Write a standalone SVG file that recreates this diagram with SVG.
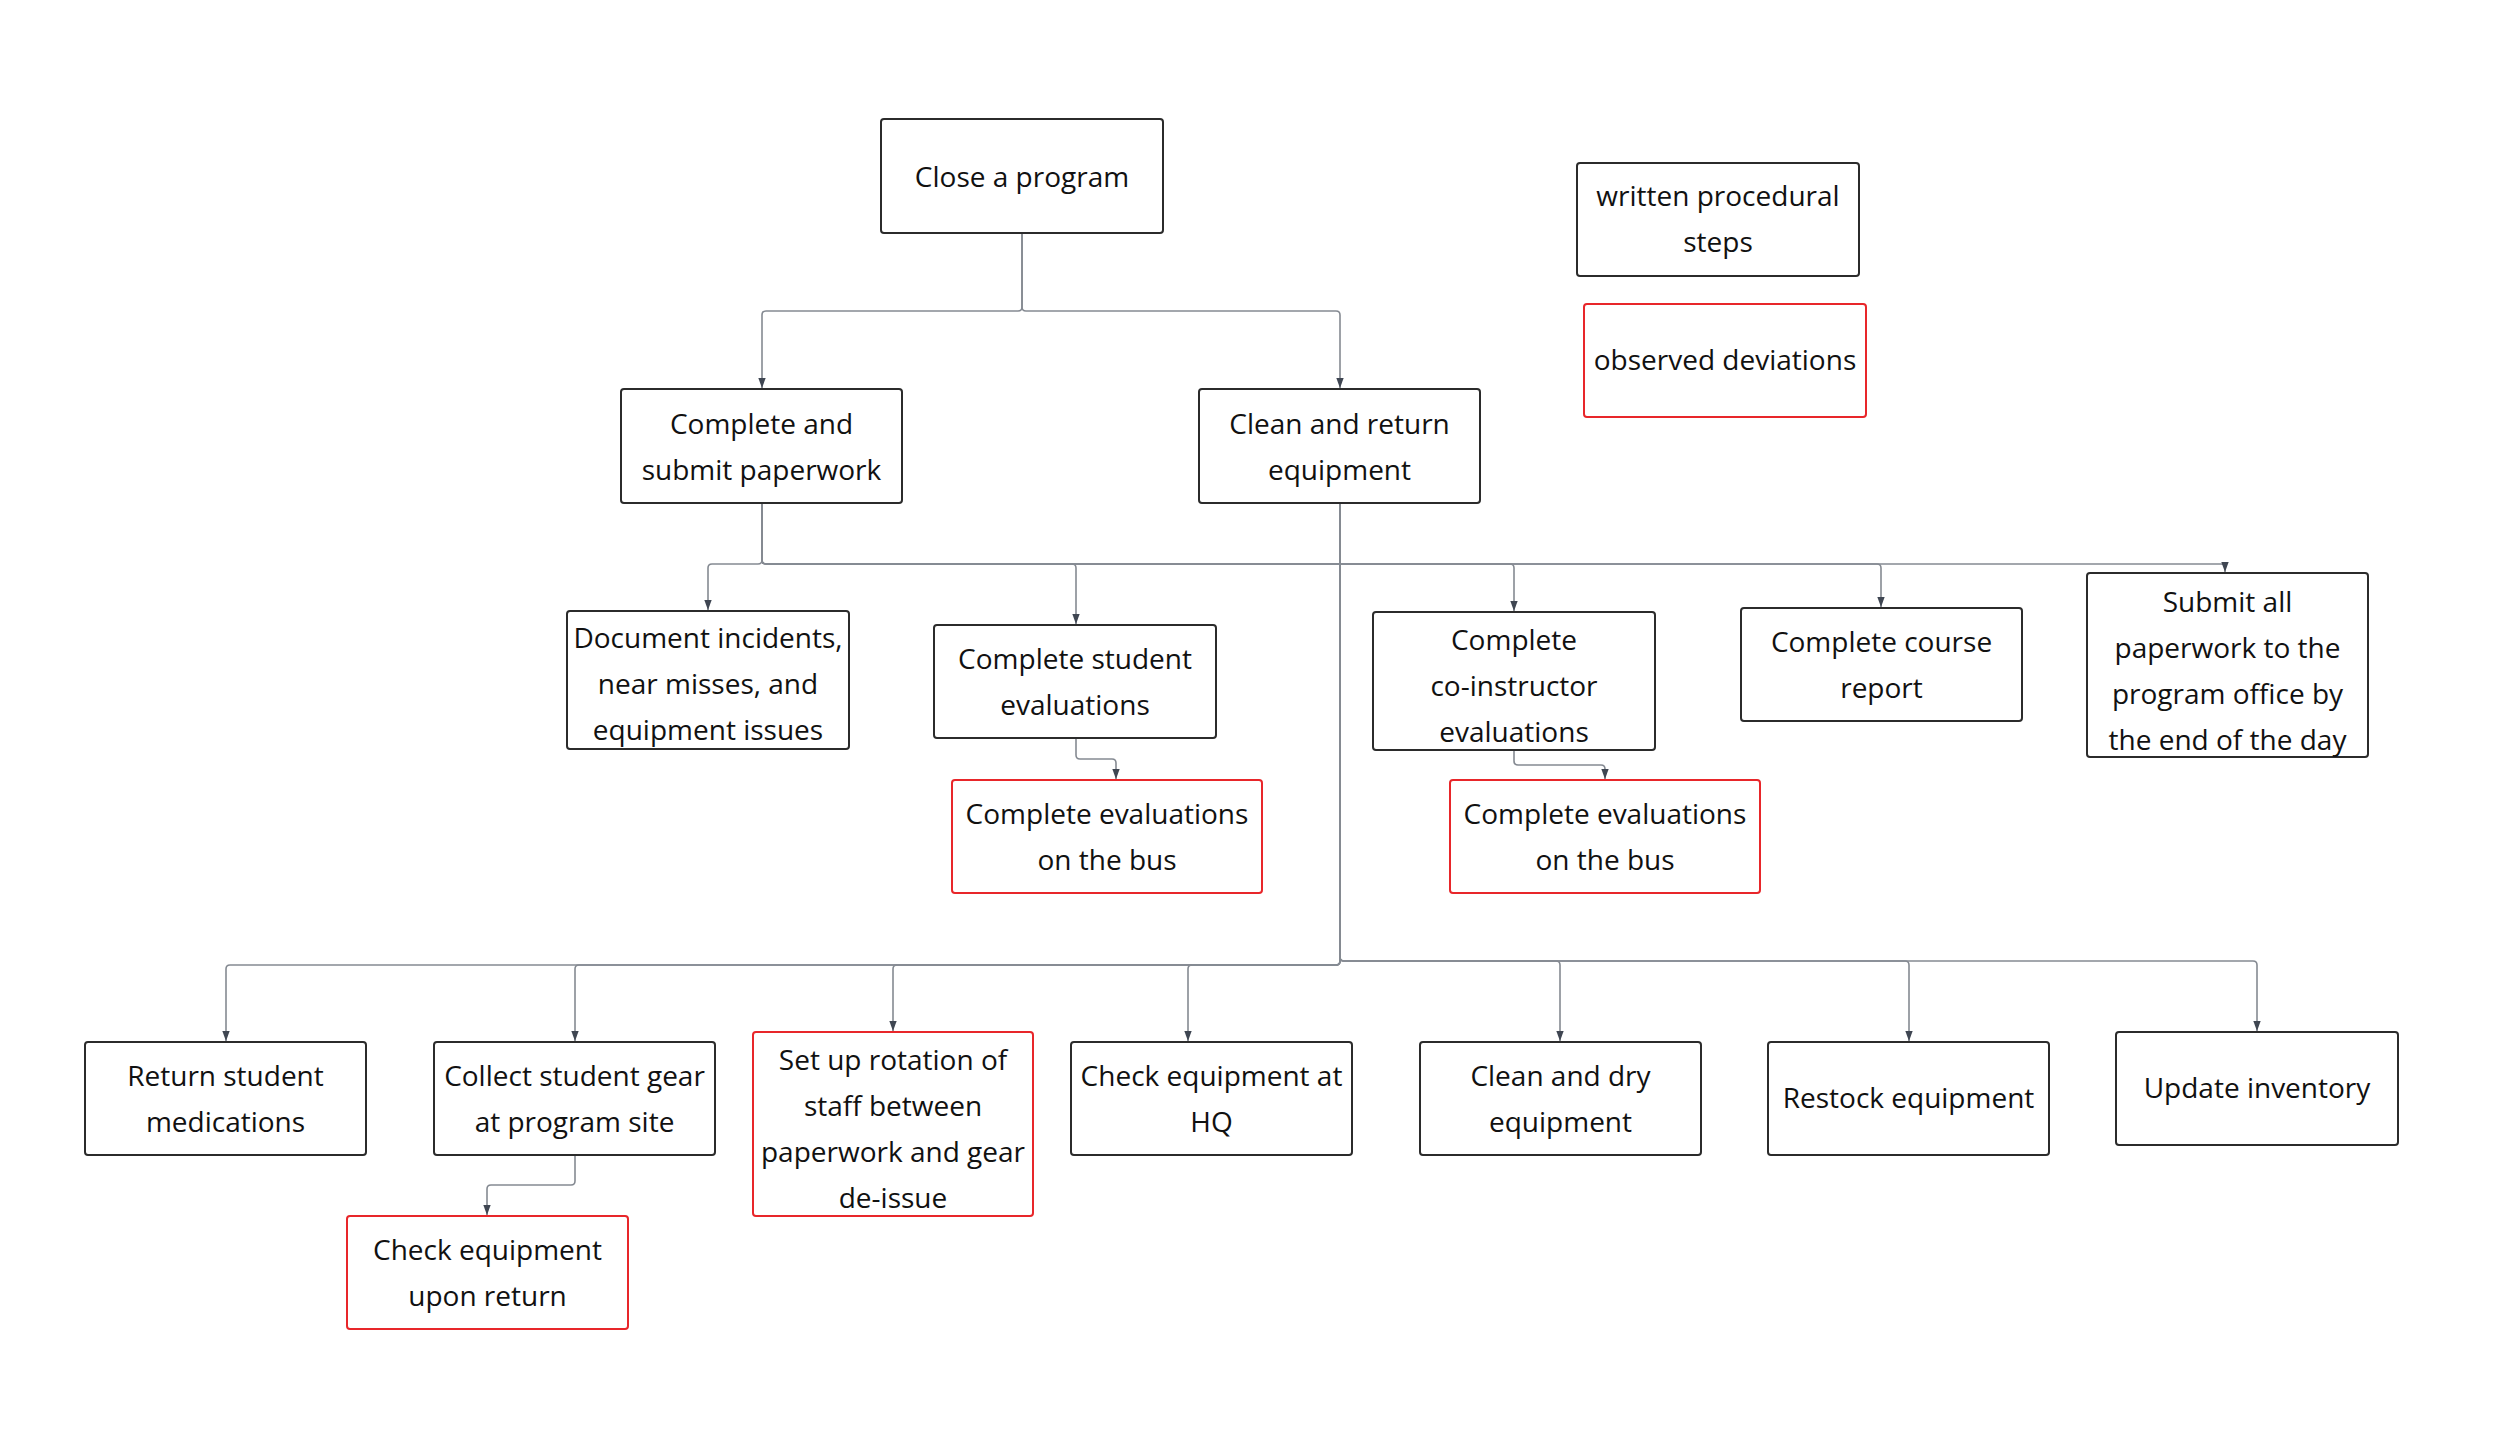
<svg xmlns="http://www.w3.org/2000/svg" width="2500" height="1435" viewBox="0 0 2500 1435">
<defs>
<marker id="arr" markerUnits="userSpaceOnUse" markerWidth="10" markerHeight="10" refX="10" refY="5" orient="auto" viewBox="0 0 10 10">
<path d="M0,1.3 L10,5 L0,8.7 Z" fill="#3f4652"/>
</marker>
<style>
.box{fill:#ffffff;stroke:#2b2b2b;stroke-width:2}
.dev{fill:#ffffff;stroke:#e8262a;stroke-width:2}
.lbl{font-family:"Open Sans","Liberation Sans",sans-serif;font-size:28px;fill:#111111;text-anchor:middle}
.con path{fill:none;stroke:#858a92;stroke-width:1.6;marker-end:url(#arr)}
</style>
</defs>
<rect x="0" y="0" width="2500" height="1435" fill="#ffffff"/>
<g id="connectors" class="con">
<path d="M1022,233 V307 Q1022,311 1018,311 H766 Q762,311 762,315 V388"/>
<path d="M1022,233 V307 Q1022,311 1026,311 H1336 Q1340,311 1340,315 V388"/>
<path d="M762,503 V560 Q762,564 758,564 H712 Q708,564 708,568 V610"/>
<path d="M762,503 V560 Q762,564 766,564 H1072 Q1076,564 1076,568 V624"/>
<path d="M762,503 V560 Q762,564 766,564 H1510 Q1514,564 1514,568 V611"/>
<path d="M762,503 V560 Q762,564 766,564 H1877 Q1881,564 1881,568 V607"/>
<path d="M762,503 V560 Q762,564 766,564 H2221 Q2225,564 2225,568 V572"/>
<path d="M1076,738 V755 Q1076,759 1080,759 H1112 Q1116,759 1116,763 V779"/>
<path d="M1514,750 V761 Q1514,765 1518,765 H1601 Q1605,765 1605,769 V779"/>
<path d="M1340,503 V961 Q1340,965 1336,965 H230 Q226,965 226,969 V1041"/>
<path d="M1340,503 V961 Q1340,965 1336,965 H579 Q575,965 575,969 V1041"/>
<path d="M1340,503 V961 Q1340,965 1336,965 H897 Q893,965 893,969 V1031"/>
<path d="M1340,503 V961 Q1340,965 1336,965 H1192 Q1188,965 1188,969 V1041"/>
<path d="M1340,503 V957 Q1340,961 1344,961 H1556 Q1560,961 1560,965 V1041"/>
<path d="M1340,503 V957 Q1340,961 1344,961 H1905 Q1909,961 1909,965 V1041"/>
<path d="M1340,503 V957 Q1340,961 1344,961 H2253 Q2257,961 2257,965 V1031"/>
<path d="M575,1155 V1181 Q575,1185 571,1185 H491 Q487,1185 487,1189 V1215"/>
</g>
<g id="n-close"><rect class="box" x="881" y="119" width="282" height="114" rx="3"/><text class="lbl" x="1022" y="187">Close a program</text></g>
<g id="n-paperwork"><rect class="box" x="621" y="389" width="281" height="114" rx="3"/><text class="lbl" x="761.5" y="434">Complete and</text><text class="lbl" x="761.5" y="480">submit paperwork</text></g>
<g id="n-clean"><rect class="box" x="1199" y="389" width="281" height="114" rx="3"/><text class="lbl" x="1339.5" y="434">Clean and return</text><text class="lbl" x="1339.5" y="480">equipment</text></g>
<g id="legend-written"><rect class="box" x="1577" y="163" width="282" height="113" rx="3"/><text class="lbl" x="1718" y="206">written procedural</text><text class="lbl" x="1718" y="252">steps</text></g>
<g id="legend-observed"><rect class="dev" x="1584" y="304" width="282" height="113" rx="3"/><text class="lbl" x="1725" y="370">observed deviations</text></g>
<g id="n-document"><rect class="box" x="567" y="611" width="282" height="138" rx="3"/><text class="lbl" x="708" y="648">Document incidents,</text><text class="lbl" x="708" y="694">near misses, and</text><text class="lbl" x="708" y="740">equipment issues</text></g>
<g id="n-student-eval"><rect class="box" x="934" y="625" width="282" height="113" rx="3"/><text class="lbl" x="1075" y="669">Complete student</text><text class="lbl" x="1075" y="715">evaluations</text></g>
<g id="n-bus1"><rect class="dev" x="952" y="780" width="310" height="113" rx="3"/><text class="lbl" x="1107" y="824">Complete evaluations</text><text class="lbl" x="1107" y="870">on the bus</text></g>
<g id="n-coinstr"><rect class="box" x="1373" y="612" width="282" height="138" rx="3"/><text class="lbl" x="1514" y="650">Complete</text><text class="lbl" x="1514" y="696">co-instructor</text><text class="lbl" x="1514" y="742">evaluations</text></g>
<g id="n-bus2"><rect class="dev" x="1450" y="780" width="310" height="113" rx="3"/><text class="lbl" x="1605" y="824">Complete evaluations</text><text class="lbl" x="1605" y="870">on the bus</text></g>
<g id="n-course"><rect class="box" x="1741" y="608" width="281" height="113" rx="3"/><text class="lbl" x="1881.5" y="652">Complete course</text><text class="lbl" x="1881.5" y="698">report</text></g>
<g id="n-submit"><rect class="box" x="2087" y="573" width="281" height="184" rx="3"/><text class="lbl" x="2227.5" y="612">Submit all</text><text class="lbl" x="2227.5" y="658">paperwork to the</text><text class="lbl" x="2227.5" y="704">program office by</text><text class="lbl" x="2227.5" y="750">the end of the day</text></g>
<g id="n-meds"><rect class="box" x="85" y="1042" width="281" height="113" rx="3"/><text class="lbl" x="225.5" y="1086">Return student</text><text class="lbl" x="225.5" y="1132">medications</text></g>
<g id="n-collect"><rect class="box" x="434" y="1042" width="281" height="113" rx="3"/><text class="lbl" x="574.5" y="1086">Collect student gear</text><text class="lbl" x="574.5" y="1132">at program site</text></g>
<g id="n-checkreturn"><rect class="dev" x="347" y="1216" width="281" height="113" rx="3"/><text class="lbl" x="487.5" y="1260">Check equipment</text><text class="lbl" x="487.5" y="1306">upon return</text></g>
<g id="n-rotation"><rect class="dev" x="753" y="1032" width="280" height="184" rx="3"/><text class="lbl" x="893" y="1070">Set up rotation of</text><text class="lbl" x="893" y="1116">staff between</text><text class="lbl" x="893" y="1162">paperwork and gear</text><text class="lbl" x="893" y="1208">de-issue</text></g>
<g id="n-hq"><rect class="box" x="1071" y="1042" width="281" height="113" rx="3"/><text class="lbl" x="1211.5" y="1086">Check equipment at</text><text class="lbl" x="1211.5" y="1132">HQ</text></g>
<g id="n-cleandry"><rect class="box" x="1420" y="1042" width="281" height="113" rx="3"/><text class="lbl" x="1560.5" y="1086">Clean and dry</text><text class="lbl" x="1560.5" y="1132">equipment</text></g>
<g id="n-restock"><rect class="box" x="1768" y="1042" width="281" height="113" rx="3"/><text class="lbl" x="1908.5" y="1108">Restock equipment</text></g>
<g id="n-inventory"><rect class="box" x="2116" y="1032" width="282" height="113" rx="3"/><text class="lbl" x="2257" y="1098">Update inventory</text></g>
</svg>
